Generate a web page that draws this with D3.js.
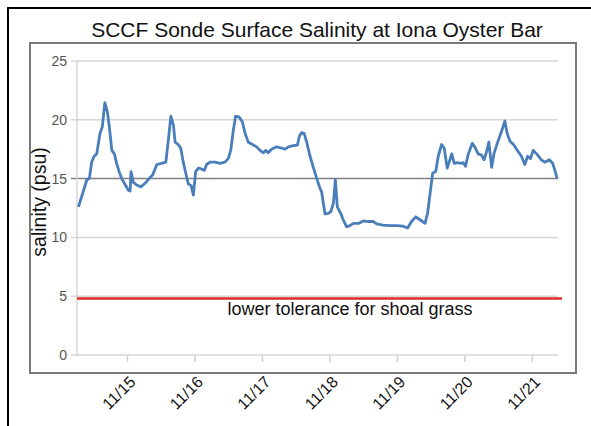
<!DOCTYPE html>
<html>
<head>
<meta charset="utf-8">
<script src="https://cdn.jsdelivr.net/npm/d3@7"></script>
<style>
  body { margin: 0; background: #fff; }
  svg { display: block; font-family: "Liberation Sans", Arial, sans-serif; }
</style>
</head>
<body>
<svg id="chart" width="591" height="426"></svg>
<script>
// hours after 11/14 00:00
var hours = [6.7, 7.9, 9.7, 10.6, 11.4, 12.3, 13.2, 14.4, 15.2, 16.1, 17.0, 17.7, 18.6, 19.5, 20.3, 21.3, 22.1, 23.3,
  24.5, 25.1, 25.4, 26.2, 27.4, 29.0, 30.4, 32.2, 33.1, 34.6, 36.3, 37.8, 38.7, 39.6, 40.5, 41.1, 42.2, 43.1, 44.0,
  44.9, 45.8, 46.8, 47.6, 48.4, 49.4, 50.6, 51.5, 52.3, 53.5, 55.3, 57.1, 58.8, 60.0, 60.9, 61.8, 62.6, 63.8, 65.0,
  66.0, 67.1, 68.6, 70.1, 71.3, 72.5, 73.4, 74.2, 75.4, 77.2, 79.0, 80.2, 81.4, 83.1, 84.6, 85.3, 86.1, 87.0, 87.9,
  89.1, 90.2, 91.5, 92.6, 93.2, 94.4, 95.6, 96.5, 97.4, 98.1, 98.8, 100.0, 100.9, 102.1, 103.3, 104.5, 106.5, 108.0,
  109.8, 111.6, 112.8, 115.1, 117.5, 119.9, 122.2, 123.8, 125.2, 126.7, 128.2, 130.0, 130.9, 132.1, 132.7, 133.8,
  134.7, 135.9, 136.8, 137.9, 138.6, 139.5, 140.4, 141.4, 142.7, 143.6, 144.4, 145.4, 146.8, 147.7, 148.9, 150.1,
  151.0, 151.9, 152.7, 153.7, 154.5, 155.7, 157.2, 158.4, 159.2, 160.2, 161.6, 163.1, 164.3, 165.5, 166.5, 167.5,
  168.5, 169.7, 171.4, 172.6, 174.2, 175.4, 176.2, 177.0];
var salinity = [12.6, 13.5, 14.9, 15.0, 16.4, 16.9, 17.1, 18.85, 19.4, 21.45, 20.7, 19.4, 17.4, 17.1, 16.3, 15.5, 15.0, 14.5,
  14.0, 13.95, 15.6, 14.7, 14.45, 14.3, 14.6, 15.1, 15.3, 16.2, 16.3, 16.4, 18.3, 20.3, 19.55, 18.1, 17.9, 17.6, 16.4,
  15.45, 14.55, 14.4, 13.6, 15.6, 15.9, 15.8, 15.7, 16.2, 16.4, 16.4, 16.3, 16.4, 16.7, 17.4, 19.1, 20.3, 20.25, 19.85,
  18.85, 18.1, 17.9, 17.7, 17.4, 17.2, 17.4, 17.2, 17.5, 17.7, 17.6, 17.5, 17.7, 17.8, 17.85, 18.6, 18.9, 18.85, 18.1,
  16.9, 16.0, 15.0, 14.2, 13.9, 12.0, 12.05, 12.2, 12.9, 14.9, 12.6, 12.05, 11.5, 10.9, 11.0, 11.2, 11.2, 11.4,
  11.35, 11.35, 11.15, 11.05, 11.0, 11.0, 10.95, 10.8, 11.35, 11.75, 11.5, 11.2, 12.05, 14.3, 15.45, 15.6,
  16.9, 17.9, 17.6, 15.9, 16.4, 17.1, 16.3, 16.35, 16.3, 16.35, 16.05, 17.1, 18.0, 17.7, 17.1, 17.0,
  16.6, 17.3, 18.1, 15.95, 17.1, 18.0, 19.0, 19.9, 18.85, 18.2, 17.85, 17.3, 16.9, 16.2, 16.9, 16.7,
  17.4, 17.1, 16.6, 16.4, 16.6, 16.3, 15.7, 15.0];

var dayLabels = ["11/15", "11/16", "11/17", "11/18", "11/19", "11/20", "11/21"];
var dayHours = [24, 48, 72, 96, 120, 144, 168];
var yTicks = [0, 5, 10, 15, 20, 25];
var threshold = 4.8;
var thresholdLabel = "lower tolerance for shoal grass";

var svg = d3.select("#chart");

// frames
svg.append("rect").attr("x", 8).attr("y", 8).attr("width", 600).attr("height", 430)
  .attr("fill", "none").attr("stroke", "#000").attr("stroke-width", 2);
svg.append("rect").attr("x", 30).attr("y", 43).attr("width", 546).attr("height", 330)
  .attr("fill", "#fff").attr("stroke", "#7a7a7a").attr("stroke-width", 2);

var plotLeft = 77, plotRight = 558, plotTop = 61, plotBottom = 355;
var x = d3.scaleLinear().domain([6.2, 177.3]).range([plotLeft, plotRight]);
var y = d3.scaleLinear().domain([0, 25]).range([plotBottom, plotTop]);

// title
svg.append("text").attr("x", 317).attr("y", 37).attr("text-anchor", "middle")
  .style("font-size", "21px").style("fill", "#111").text("SCCF Sonde Surface Salinity at Iona Oyster Bar");

// gridlines
svg.append("g").selectAll("line").data(yTicks).enter().append("line")
  .attr("x1", plotLeft - 6).attr("x2", plotRight)
  .attr("y1", function (d) { return y(d); }).attr("y2", function (d) { return y(d); })
  .attr("stroke", function (d) { return d == 15 ? "#808080" : "#d6d6d6"; })
  .attr("stroke-width", 1.5);

// y axis line
svg.append("line").attr("x1", plotLeft).attr("x2", plotLeft).attr("y1", plotTop).attr("y2", plotBottom)
  .attr("stroke", "#d6d6d6").attr("stroke-width", 1.5);

// y tick labels
svg.append("g").selectAll("text").data(yTicks).enter().append("text")
  .attr("x", 67).attr("y", function (d) { return y(d) + 5; })
  .attr("text-anchor", "end").style("font-size", "14px").style("fill", "#555")
  .text(function (d) { return d; });

// x axis
var xAxis = svg.append("g").attr("transform", "translate(0," + plotBottom + ")")
  .call(d3.axisBottom(x).tickValues(dayHours).tickSize(7).tickFormat(function (d, i) { return dayLabels[i]; }));
xAxis.select(".domain").remove();
xAxis.selectAll(".tick line").attr("stroke", "#d0d0d0").attr("stroke-width", 1.5);
xAxis.selectAll(".tick text")
  .attr("font-family", "Liberation Sans, Arial, sans-serif").attr("font-size", 16).attr("fill", "#111")
  .attr("text-anchor", "end").attr("dx", 0).attr("dy", 0)
  .attr("transform", "translate(9,28) rotate(-45)").attr("y", 0);

// y label
svg.append("text").attr("transform", "translate(46,202) rotate(-90)")
  .attr("text-anchor", "middle").style("font-size", "19.5px").style("fill", "#111")
  .text("salinity (psu)");

// threshold line
svg.append("line").attr("x1", plotLeft).attr("x2", 562)
  .attr("y1", y(threshold)).attr("y2", y(threshold))
  .attr("stroke", "#e02a2a").attr("stroke-width", 2.5);
svg.append("text").attr("x", 350).attr("y", 315).attr("text-anchor", "middle")
  .style("font-size", "18px").style("fill", "#111").text(thresholdLabel);

// salinity series
var line = d3.line()
  .x(function (d) { return x(d[0]); })
  .y(function (d) { return y(d[1]); });
svg.append("path").datum(d3.zip(hours, salinity))
  .attr("d", line).attr("fill", "none")
  .attr("stroke", "#4a7ebb").attr("stroke-width", 2.8).attr("stroke-linejoin", "round");
</script>
</body>
</html>
